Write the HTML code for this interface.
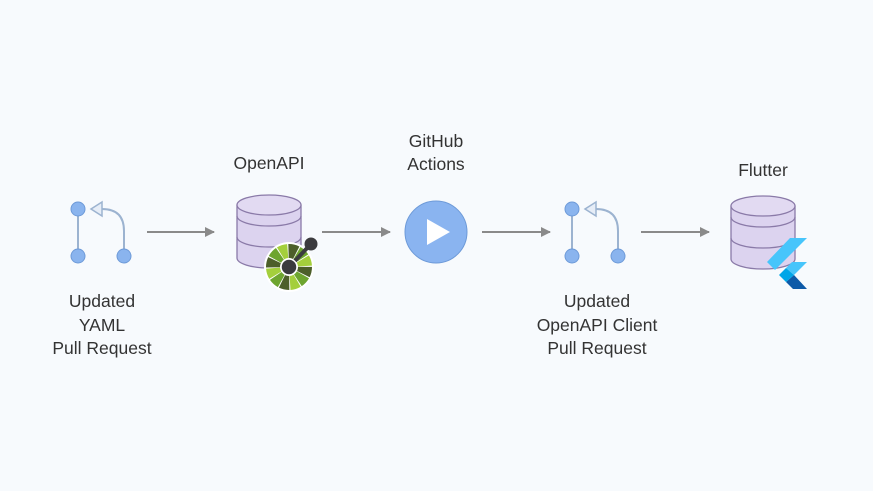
<!DOCTYPE html>
<html><head><style>
html,body{margin:0;padding:0;background:#f7fafd;}
svg{display:block}
text{font-family:"Liberation Sans",sans-serif;font-size:17.5px;fill:#333;text-anchor:middle}
</style></head><body>
<svg width="873" height="491" viewBox="0 0 873 491">
<rect width="873" height="491" fill="#f7fafd"/>
<defs>
<marker id="ah" markerWidth="10" markerHeight="10" refX="9" refY="5" orient="auto" markerUnits="userSpaceOnUse"><path d="M0,0 L10,5 L0,10Z" fill="#8a8a8a"/></marker>
<g id="git">
<line x1="0" y1="0" x2="0" y2="47" stroke="#9cb3d0" stroke-width="2"/>
<path d="M46,47 V22 Q46,0 24,0 H20" fill="none" stroke="#9cb3d0" stroke-width="2"/>
<path d="M24,-7 L13,0 L24,7Z" fill="#e6edf7" stroke="#9cb3d0" stroke-width="1.5"/>
<circle cx="0" cy="0" r="7" fill="#8ab4ee" stroke="#6d9ad8" stroke-width="1"/>
<circle cx="0" cy="47" r="7" fill="#8ab4ee" stroke="#6d9ad8" stroke-width="1"/>
<circle cx="46" cy="47" r="7" fill="#8ab4ee" stroke="#6d9ad8" stroke-width="1"/>
</g>
<g id="db">
<path d="M0,10 V63 A32,10 0 0 0 64,63 V10" fill="#dcd3ef" stroke="#8a7aa8" stroke-width="1.3"/>
<path d="M0,21 A32,10 0 0 0 64,21 M0,42 A32,10 0 0 0 64,42" fill="none" stroke="#8a7aa8" stroke-width="1.3"/>
<ellipse cx="32" cy="10" rx="32" ry="10" fill="#e2daf2" stroke="#8a7aa8" stroke-width="1.3"/>
</g>
</defs>

<use href="#git" x="78" y="209"/>
<use href="#git" x="572" y="209"/>

<line x1="147" y1="232" x2="214" y2="232" stroke="#8a8a8a" stroke-width="2" marker-end="url(#ah)"/>
<line x1="322" y1="232" x2="390" y2="232" stroke="#8a8a8a" stroke-width="2" marker-end="url(#ah)"/>
<line x1="482" y1="232" x2="550" y2="232" stroke="#8a8a8a" stroke-width="2" marker-end="url(#ah)"/>
<line x1="641" y1="232" x2="709" y2="232" stroke="#8a8a8a" stroke-width="2" marker-end="url(#ah)"/>

<use href="#db" x="237" y="195"/>
<use href="#db" x="731" y="196"/>

<!-- openapi badge -->
<circle cx="289" cy="267" r="25" fill="#fff"/>
<g transform="rotate(-90 289 267)">
<circle cx="289" cy="267" r="16" fill="none" stroke="#4d5f2a" stroke-width="14" pathLength="120" stroke-dasharray="9 21"/>
<circle cx="289" cy="267" r="16" fill="none" stroke="#6ea52f" stroke-width="14" pathLength="120" stroke-dasharray="9 21" stroke-dashoffset="-10"/>
<circle cx="289" cy="267" r="16" fill="none" stroke="#a4cf3c" stroke-width="14" pathLength="120" stroke-dasharray="9 21" stroke-dashoffset="-20"/>
</g>
<line x1="289" y1="267" x2="311" y2="244" stroke="#3b3b3e" stroke-width="4"/>
<circle cx="289" cy="267" r="8" fill="#3b3b3e" stroke="#fff" stroke-width="1.5"/>
<circle cx="311" cy="244" r="6.5" fill="#3b3b3e"/>

<!-- play -->
<circle cx="436" cy="232" r="31" fill="#8ab4f0" stroke="#6d9ad8" stroke-width="1"/>
<path d="M427,219 L450,232 L427,245Z" fill="#fff"/>

<!-- flutter -->
<path d="M790,238 H807 L775,270 L767,262Z" fill="#47c5fb"/>
<path d="M792,262 H807 L794,275 L786,268Z" fill="#47c5fb"/>
<path d="M786,282 L794,275 L807,289 H793Z" fill="#0d5aa8"/>
<path d="M779,275 L786,268 L794,275 L786,282Z" fill="#00a6e8"/>

<text x="269" y="169">OpenAPI</text>
<text x="436" y="147">GitHub</text>
<text x="436" y="170">Actions</text>
<text x="763" y="176">Flutter</text>
<text x="102" y="307">Updated</text>
<text x="102" y="331">YAML</text>
<text x="102" y="354">Pull Request</text>
<text x="597" y="307">Updated</text>
<text x="597" y="331">OpenAPI Client</text>
<text x="597" y="354">Pull Request</text>
</svg>
</body></html>
